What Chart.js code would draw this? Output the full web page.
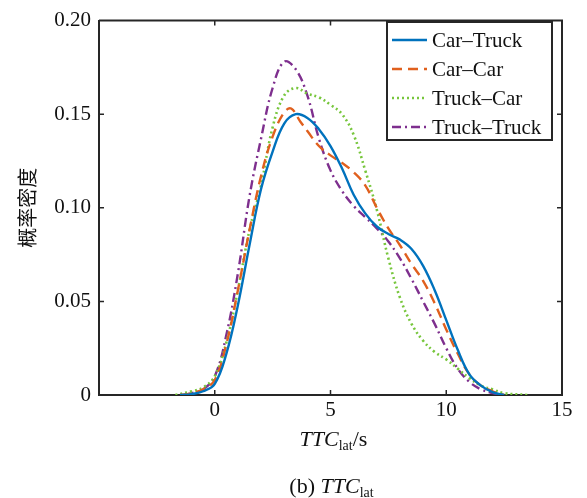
<!DOCTYPE html>
<html lang="zh">
<head>
    <meta charset="UTF-8">
    <title>TTC_lat 概率密度</title>
    <script src="https://cdn.jsdelivr.net/npm/chart.js"></script>
    <style>
        html, body { margin: 0; padding: 0; background: #fff; }
        .wrap { position: relative; width: 587px; height: 498px; }
        .lbl {
            position: absolute; width: 587px; text-align: center;
            font-family: "Liberation Serif", "DejaVu Serif", serif; font-size: 22px; color: #111;
            line-height: 1;
        }
        .lbl i { font-style: italic; }
        .lbl sub { font-size: 14px; vertical-align: -4px; }
    </style>
</head>
<body>
<div class="wrap">
    <canvas id="kde" width="587" height="498"></canvas>
    <div class="lbl" style="top:428px; left:40px;"><i>TTC</i><sub>lat</sub>/s</div>
    <div class="lbl" style="top:475px; left:38px;">(b) <i>TTC</i><sub>lat</sub></div>
</div>

<script>
    // TTC_lat 取值 (s) 与各类型的概率密度
    const carTruckX = [-1.5, -1, -0.5, 0, 0.5, 1, 1.5, 2, 2.5, 3, 3.5, 4, 4.5, 5, 5.5, 6, 6.5, 7, 7.5, 8, 8.5, 9, 9.5, 10, 10.5, 11, 11.5, 12, 12.5];
    const carTruckY = [0, 0.0005, 0.002, 0.006, 0.022, 0.048, 0.080, 0.110, 0.130, 0.145, 0.150, 0.148, 0.142, 0.133, 0.121, 0.107, 0.097, 0.090, 0.086, 0.083, 0.078, 0.069, 0.056, 0.040, 0.024, 0.011, 0.005, 0.0015, 0];

    const carCarX = [-1.5, -1, -0.5, 0, 0.5, 1, 1.5, 2, 2.5, 3, 3.3, 3.7, 4, 4.5, 5, 5.5, 6, 6.5, 7, 7.5, 8, 8.5, 9, 9.5, 10, 10.5, 11, 11.5, 12, 12.5];
    const carCarY = [0, 0.001, 0.003, 0.008, 0.027, 0.056, 0.088, 0.117, 0.138, 0.151, 0.153, 0.146, 0.141, 0.133, 0.128, 0.124, 0.119, 0.112, 0.100, 0.089, 0.080, 0.070, 0.061, 0.049, 0.035, 0.022, 0.011, 0.005, 0.002, 0];

    const truckCarX = [-1.7, -1, -0.5, 0, 0.5, 1, 1.5, 2, 2.5, 3, 3.5, 4, 4.5, 5, 5.5, 6, 6.5, 7, 7.5, 8, 8.5, 9, 9.5, 10, 10.5, 11, 11.5, 12, 12.5, 13.5];
    const truckCarY = [0, 0.002, 0.004, 0.010, 0.028, 0.056, 0.088, 0.112, 0.143, 0.160, 0.164, 0.161, 0.159, 0.155, 0.150, 0.139, 0.120, 0.099, 0.073, 0.052, 0.038, 0.029, 0.023, 0.019, 0.014, 0.009, 0.005, 0.003, 0.001, 0];

    const truckTruckX = [-1.3, -1, -0.5, 0, 0.5, 1, 1.5, 2, 2.5, 3, 3.5, 4, 4.5, 5, 5.5, 6, 6.5, 7, 7.5, 8, 8.5, 9, 9.5, 10, 10.5, 11, 11.5, 12, 12.5];
    const truckTruckY = [0, 0.001, 0.003, 0.010, 0.032, 0.065, 0.106, 0.137, 0.164, 0.178, 0.174, 0.160, 0.137, 0.120, 0.109, 0.101, 0.095, 0.089, 0.082, 0.073, 0.062, 0.050, 0.038, 0.025, 0.014, 0.007, 0.003, 0.001, 0];

    const xTicks = [0, 5, 10, 15];
    const yTicks = [0, 0.05, 0.10, 0.15, 0.20];

    const pts = (xs, ys) => xs.map((x, i) => ({ x: x, y: ys[i] }));

    const serif = '"Liberation Serif", "DejaVu Serif", serif';
    const axisColor = '#262626';

    // 上边框、右边框、向内刻度和带边框的图例
    const framePlugin = {
        id: 'frame',
        afterDraw(chart) {
            const { ctx, chartArea: a, scales } = chart;
            const xs = scales.x, ys = scales.y;
            ctx.save();
            ctx.strokeStyle = axisColor;
            ctx.lineWidth = 2;
            ctx.beginPath();
            ctx.moveTo(a.left, a.top);
            ctx.lineTo(a.right, a.top);
            ctx.lineTo(a.right, a.bottom);
            ctx.stroke();

            ctx.lineWidth = 1.5;
            ctx.beginPath();
            xTicks.forEach(v => {
                const px = xs.getPixelForValue(v);
                if (px <= a.left + 1 || px >= a.right - 1) return;
                ctx.moveTo(px, a.bottom); ctx.lineTo(px, a.bottom - 5);
                ctx.moveTo(px, a.top); ctx.lineTo(px, a.top + 5);
            });
            yTicks.forEach(v => {
                const py = ys.getPixelForValue(v);
                if (py <= a.top + 1 || py >= a.bottom - 1) return;
                ctx.moveTo(a.left, py); ctx.lineTo(a.left + 5, py);
                ctx.moveTo(a.right, py); ctx.lineTo(a.right - 5, py);
            });
            ctx.stroke();

            // 图例
            const box = { left: 387, top: 22, width: 165, height: 118 };
            ctx.fillStyle = '#fff';
            ctx.fillRect(box.left, box.top, box.width, box.height);
            ctx.lineWidth = 2;
            ctx.strokeStyle = axisColor;
            ctx.strokeRect(box.left, box.top, box.width, box.height);
            ctx.font = '21px ' + serif;
            ctx.textBaseline = 'middle';
            ctx.textAlign = 'left';
            chart.data.datasets.forEach((ds, i) => {
                const cy = box.top + 18 + i * 29;
                ctx.strokeStyle = ds.borderColor;
                ctx.lineWidth = ds.borderWidth;
                ctx.setLineDash(ds.borderDash || []);
                ctx.beginPath();
                ctx.moveTo(box.left + 5, cy);
                ctx.lineTo(box.left + 40, cy);
                ctx.stroke();
                ctx.setLineDash([]);
                ctx.fillStyle = '#111';
                ctx.fillText(ds.label, box.left + 45, cy + 1);
            });
            ctx.restore();
        }
    };

    const ctx = document.getElementById('kde').getContext('2d');
    new Chart(ctx, {
        type: 'line',
        data: {
            datasets: [
                {
                    label: 'Car\u2013Truck',
                    data: pts(carTruckX, carTruckY),
                    borderColor: '#0072BD',
                    borderWidth: 2.4
                },
                {
                    label: 'Car\u2013Car',
                    data: pts(carCarX, carCarY),
                    borderColor: '#E0601E',
                    borderWidth: 2.4,
                    borderDash: [10, 6]
                },
                {
                    label: 'Truck\u2013Car',
                    data: pts(truckCarX, truckCarY),
                    borderColor: '#77C63C',
                    borderWidth: 2.6,
                    borderDash: [2, 3]
                },
                {
                    label: 'Truck\u2013Truck',
                    data: pts(truckTruckX, truckTruckY),
                    borderColor: '#7E2F8E',
                    borderWidth: 2.4,
                    borderDash: [9, 4, 2, 4]
                }
            ]
        },
        options: {
            responsive: false,
            animation: false,
            elements: { point: { radius: 0 }, line: { tension: 0.4 } },
            layout: { padding: { top: 14, right: 25, left: 0, bottom: 0 } },
            plugins: {
                legend: { display: false },
                tooltip: { enabled: false }
            },
            scales: {
                x: {
                    type: 'linear',
                    min: -5,
                    max: 15,
                    afterBuildTicks: s => { s.ticks = [-5].concat(xTicks).map(v => ({ value: v })); },
                    afterFit: s => { s.height = 103; },
                    grid: { display: true, drawOnChartArea: false, drawTicks: false },
                    border: { display: true, color: axisColor, width: 2 },
                    ticks: {
                        padding: 3,
                        color: '#111',
                        font: { family: serif, size: 21 },
                        callback: v => (v === -5 ? '' : String(v))
                    }
                },
                y: {
                    min: 0,
                    max: 0.2,
                    afterBuildTicks: s => { s.ticks = yTicks.map(v => ({ value: v })); },
                    afterFit: s => { s.width = 99; },
                    grid: { display: true, drawOnChartArea: false, drawTicks: false },
                    border: { display: true, color: axisColor, width: 2 },
                    title: {
                        display: true,
                        text: '概率密度',
                        color: '#111',
                        font: { family: '"Noto Sans CJK SC", sans-serif', size: 20 },
                        padding: { top: 15, bottom: 0 }
                    },
                    ticks: {
                        padding: 8,
                        color: '#111',
                        font: { family: serif, size: 21 },
                        callback: v => (v === 0 ? '0' : v.toFixed(2))
                    }
                }
            }
        },
        plugins: [framePlugin]
    });
</script>
</body>
</html>
